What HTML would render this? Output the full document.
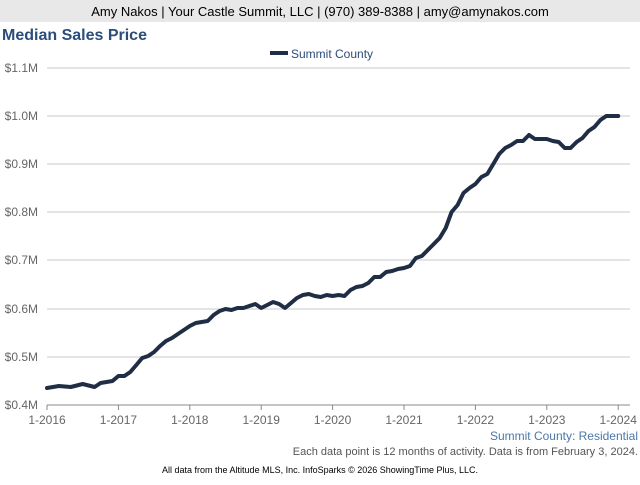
<!DOCTYPE html>
<html><head><meta charset="utf-8"><style>
html,body{margin:0;padding:0;background:#fff;}
body{width:640px;height:480px;overflow:hidden;font-family:"Liberation Sans",Arial,sans-serif;}
</style></head><body>
<svg width="640" height="480" xmlns="http://www.w3.org/2000/svg" font-family="Liberation Sans, Arial, sans-serif">
<rect x="0" y="0" width="640" height="22" fill="#e8e8e8"/>
<text x="320" y="16" font-size="13" text-anchor="middle" fill="#000">Amy Nakos | Your Castle Summit, LLC | (970) 389-8388 | amy@amynakos.com</text>
<text x="2" y="40" font-size="16" font-weight="bold" fill="#2a4d7a">Median Sales Price</text>
<line x1="270" y1="53" x2="288" y2="53" stroke="#1f2d45" stroke-width="4"/>
<text x="291" y="58" font-size="12" fill="#2a4d7a">Summit County</text>
<g stroke="#c8c8c8" stroke-width="1">
<line x1="47" y1="68" x2="630" y2="68"/><line x1="47" y1="116" x2="630" y2="116"/>
<line x1="47" y1="164" x2="630" y2="164"/><line x1="47" y1="212" x2="630" y2="212"/>
<line x1="47" y1="260" x2="630" y2="260"/><line x1="47" y1="309" x2="630" y2="309"/>
<line x1="47" y1="357" x2="630" y2="357"/>
</g>
<line x1="47" y1="405" x2="630" y2="405" stroke="#888"/>
<g stroke="#888">
<line x1="47" y1="405" x2="47" y2="410"/><line x1="118.4" y1="405" x2="118.4" y2="410"/>
<line x1="189.8" y1="405" x2="189.8" y2="410"/><line x1="261.2" y1="405" x2="261.2" y2="410"/>
<line x1="332.6" y1="405" x2="332.6" y2="410"/><line x1="404" y1="405" x2="404" y2="410"/>
<line x1="475.4" y1="405" x2="475.4" y2="410"/><line x1="546.8" y1="405" x2="546.8" y2="410"/>
<line x1="618.2" y1="405" x2="618.2" y2="410"/>
</g>
<g font-size="12" fill="#666" text-anchor="end">
<text x="38" y="72">$1.1M</text><text x="38" y="120">$1.0M</text><text x="38" y="168">$0.9M</text>
<text x="38" y="216">$0.8M</text><text x="38" y="264">$0.7M</text><text x="38" y="313">$0.6M</text>
<text x="38" y="361">$0.5M</text><text x="38" y="409">$0.4M</text>
</g>
<g font-size="12" fill="#666" text-anchor="middle">
<text x="47" y="424">1-2016</text><text x="118.4" y="424">1-2017</text><text x="189.8" y="424">1-2018</text>
<text x="261.2" y="424">1-2019</text><text x="332.6" y="424">1-2020</text><text x="404" y="424">1-2021</text>
<text x="475.4" y="424">1-2022</text><text x="546.8" y="424">1-2023</text><text x="618.2" y="424">1-2024</text>
</g>
<polyline fill="none" stroke="#1f2d45" stroke-width="4" stroke-linejoin="round" stroke-linecap="round" points="47,388 58.9,386 70.8,387 82.7,384 94.6,387 100.6,383 112.5,381 118.4,376 124.4,376 130.3,372 136.3,365 142.2,358 148.2,356 154.1,352 160.1,346 166,341 172,338 177.9,334 183.9,330 189.8,326 195.8,323 201.7,322 207.7,321 213.6,315 219.6,311 225.5,309 231.5,310 237.4,308 243.4,308 249.3,306 255.3,304 261.2,308 267.2,305 273.1,302 279.1,304 285,308 291,303 296.9,298 302.9,295 308.8,294 314.8,296 320.7,297 326.7,295 332.6,296 338.6,295 344.5,296 350.5,290 356.4,287 362.4,286 368.3,283 374.3,277 380.2,277 386.2,272 392.1,271 398.1,269 404,268 410,266 415.9,258 421.9,256 427.8,250 433.8,244 439.7,238 445.7,228 451.6,212 457.6,205 463.5,193 469.5,188 475.4,184 481.4,177 487.3,174 493.3,164 499.2,154 505.2,148 511.1,145 517.1,141 523,141 529,135 534.9,139 540.9,139 546.8,139 552.8,141 558.7,142 564.7,148 570.6,148 576.6,142 582.5,138 588.5,131 594.4,127 600.4,120 606.3,116 612.3,116 618.2,116"/>
<text x="638" y="440" font-size="12" fill="#4a78a8" text-anchor="end">Summit County: Residential</text>
<text x="638" y="455" font-size="11" fill="#555" text-anchor="end">Each data point is 12 months of activity. Data is from February 3, 2024.</text>
<text x="320" y="473" font-size="9" fill="#000" text-anchor="middle">All data from the Altitude MLS, Inc. InfoSparks © 2026 ShowingTime Plus, LLC.</text>
</svg>
</body></html>
